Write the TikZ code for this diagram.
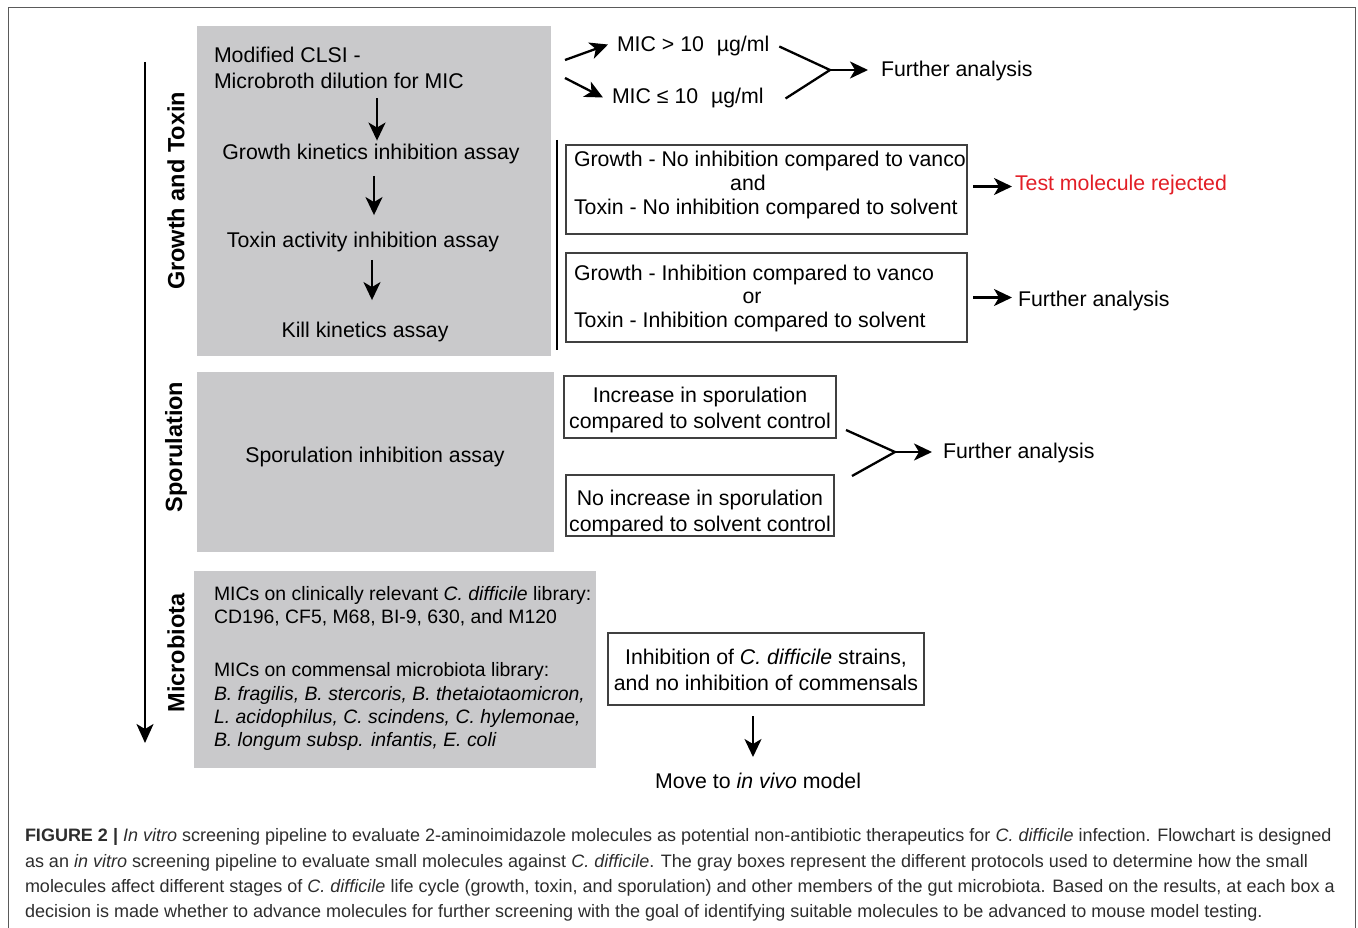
\documentclass[tikz,border=0pt]{standalone}
\usepackage{fontspec}
\setmainfont{Liberation Sans}
\usetikzlibrary{arrows.meta}
\definecolor{boxgray}{RGB}{201,201,203}
\definecolor{rejred}{RGB}{226,30,38}
\definecolor{captxt}{RGB}{45,45,45}
\definecolor{framec}{RGB}{90,90,90}
\begin{document}
\begin{tikzpicture}[x=1pt,y=-1pt,
  graybox/.style={fill=boxgray,draw=none,anchor=north west,inner sep=0,outer sep=0},
  wbox/.style={draw=black!75,line width=1.1pt,fill=white,anchor=north west,inner sep=0,outer sep=0},
  txt/.style={inner sep=0,outer sep=0,font=\fontsize{21.3}{25}\selectfont},
  mtxt/.style={inner sep=0,outer sep=0,anchor=base west,font=\fontsize{19.4}{23}\selectfont},
  lab/.style={inner sep=0,outer sep=0,rotate=90,font=\fontsize{23.5}{27}\selectfont\bfseries},
  captext/.style={inner sep=0,outer sep=0,anchor=base west,text=captxt,font=\fontsize{18}{22}\selectfont},
  arr/.style={line width=2.3pt,-{Stealth[length=18pt,width=17pt,inset=5pt]}},
  bigarr/.style={line width=2.3pt,-{Stealth[length=19pt,width=17pt,inset=5pt]}},
  conv/.style={line width=2.3pt},
]
\useasboundingbox (0,0) rectangle (1358,928);
% frame
\draw[framec,line width=1pt] (8,928) -- (8,8) -- (1355,8) -- (1355,928);

% gray boxes
\node[graybox,minimum width=354pt,minimum height=330pt] (gbox) at (197,26) {};
\node[graybox,minimum width=357pt,minimum height=180pt] (sbox) at (197,372) {};
\node[graybox,minimum width=402pt,minimum height=197pt] (mbox) at (194,571) {};

% left arrow
\coordinate (ltop) at (145,62);
\coordinate (lbot) at (145,743);
\draw[bigarr] (ltop) -- (lbot);

% rotated labels
\node[lab] (lgrowth) at (176,191) {Growth and Toxin};
\node[lab] (lspor) at (176,447) {Sporulation};
\node[lab] (lmicro) at (176,653) {Microbiota};

% growth box content
\node[txt,anchor=base west] (clsi1) at (214,63) {Modified CLSI -};
\node[txt,anchor=base west] (clsi2) at (214,89) {Microbroth dilution for MIC};
\node[txt,anchor=base] (growth) at (371,160) {Growth kinetics inhibition assay};
\node[txt,anchor=base] (toxin) at (363,248) {Toxin activity inhibition assay};
\node[txt,anchor=base] (kill) at (365,337) {Kill kinetics assay};
\coordinate (ax1) at (377,0);
\coordinate (ax2) at (374,0);
\coordinate (ax3) at (372,0);
\draw[arr] ([yshift=-9pt]clsi2.south -| ax1) -- ([yshift=4pt]growth.north -| ax1);
\draw[arr] ([yshift=-11.5pt]growth.south -| ax2) -- ([yshift=17.5pt]toxin.north -| ax2);
\draw[arr] ([yshift=-7.5pt]toxin.south -| ax3) -- ([yshift=21.5pt]kill.north -| ax3);

% MIC branch
\node[txt,anchor=base west] (mic1) at (617,52) {MIC > 10\hspace{0.6em}µg/ml};
\node[txt,anchor=base west] (mic2) at (612,104) {MIC ≤ 10\hspace{0.6em}µg/ml};
\node[txt,anchor=base west] (fa1) at (881,77) {Further analysis};
\coordinate (j1) at (830,70);
\draw[arr] ([shift={(14,34)}]gbox.north east) -- ([shift={(-9,-2)}]mic1.west);
\draw[arr] ([shift={(14,52)}]gbox.north east) -- ([shift={(-9,-1)}]mic2.west);
\draw[conv] ([shift={(10,0)}]mic1.east) -- (j1) -- ([shift={(22,0)}]mic2.east);
\draw[arr] (j1) -- ([xshift=-13pt]fa1.west |- j1);

% vertical bar
\coordinate (bart) at (557,140);
\coordinate (barb) at (557,350);
\draw[line width=2pt] (bart) -- (barb);

% box A
\node[wbox,minimum width=401pt,minimum height=89pt] (boxA) at (566,145) {};
\node[txt,anchor=base west] (a1) at (574,167) {Growth - No inhibition compared to vanco};
\node[txt,anchor=base] (a2) at (748,191) {and};
\node[txt,anchor=base west] (a3) at (574,215) {Toxin - No inhibition compared to solvent};
\node[txt,anchor=base west,text=rejred] (rej) at (1015,191) {Test molecule rejected};
\draw[arr] ([shift={(6,-3)}]boxA.east) -- ([shift={(45,-3)}]boxA.east);

% box B
\node[wbox,minimum width=401pt,minimum height=89pt] (boxB) at (566,253) {};
\node[txt,anchor=base west] (b1) at (574,280) {Growth - Inhibition compared to vanco};
\node[txt,anchor=base] (b2) at (752,304) {or};
\node[txt,anchor=base west] (b3) at (574,327) {Toxin - Inhibition compared to solvent};
\node[txt,anchor=base west] (fa2) at (1018,306) {Further analysis};
\draw[arr] ([shift={(6,0)}]boxB.east) -- ([shift={(45,0)}]boxB.east);

% sporulation
\node[txt,anchor=base] (spor) at (375,462) {Sporulation inhibition assay};
\node[wbox,minimum width=272pt,minimum height=62pt] (boxC) at (564,376) {};
\node[txt,anchor=base] (c1) at (700,402) {Increase in sporulation};
\node[txt,anchor=base] (c2) at (700,428) {compared to solvent control};
\node[wbox,minimum width=268pt,minimum height=61pt] (boxD) at (566,475) {};
\node[txt,anchor=base] (d1) at (700,505) {No increase in sporulation};
\node[txt,anchor=base] (d2) at (700,531) {compared to solvent control};
\node[txt,anchor=base west] (fa3) at (943,458) {Further analysis};
\coordinate (j3) at (895,452);
\draw[conv] ([shift={(10,-8)}]boxC.south east) -- (j3) -- ([shift={(18,1)}]boxD.north east);
\draw[arr] (j3) -- ([xshift=-11pt]fa3.west |- j3);

% microbiota
\node[mtxt] (m1) at (214,600) {MICs on clinically relevant \textit{C. difficile} library:};
\node[mtxt] (m2) at (214,623) {CD196, CF5, M68, BI-9, 630, and M120};
\node[mtxt] (m3) at (214,676) {MICs on commensal microbiota library:};
\node[mtxt] (m4) at (214,700) {\textit{B. fragilis, B. stercoris, B. thetaiotaomicron,}};
\node[mtxt] (m5) at (214,723) {\textit{L. acidophilus, C. scindens, C. hylemonae,}};
\node[mtxt] (m6) at (214,746) {\textit{B. longum subsp. infantis, E. coli}};
\node[wbox,minimum width=316pt,minimum height=72pt] (boxE) at (608,633) {};
\node[txt,anchor=base] (e1) at (766,664) {Inhibition of \textit{C. difficile} strains,};
\node[txt,anchor=base] (e2) at (766,690) {and no inhibition of commensals};
\node[txt,anchor=base] (move) at (758,788) {Move to \textit{in vivo} model};
\draw[arr] ([shift={(-13,11)}]boxE.south) -- ([shift={(-13,52)}]boxE.south);

% caption
\node[captext] (cap1) at (25,841) {\textbf{FIGURE 2 |} \textit{In vitro} screening pipeline to evaluate 2-aminoimidazole molecules as potential non-antibiotic therapeutics for \textit{C. difficile} infection. Flowchart is designed};
\node[captext] (cap2) at (25,867) {as an \textit{in vitro} screening pipeline to evaluate small molecules against \textit{C. difficile}. The gray boxes represent the different protocols used to determine how the small};
\node[captext] (cap3) at (25,892) {molecules affect different stages of \textit{C. difficile} life cycle (growth, toxin, and sporulation) and other members of the gut microbiota. Based on the results, at each box a};
\node[captext] (cap4) at (25,917) {decision is made whether to advance molecules for further screening with the goal of identifying suitable molecules to be advanced to mouse model testing.};
\end{tikzpicture}
\end{document}
